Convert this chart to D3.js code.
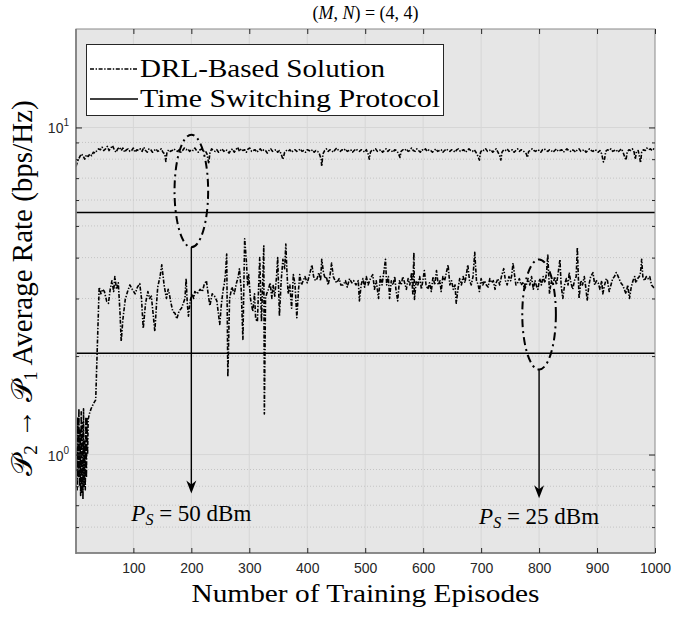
<!DOCTYPE html>
<html lang="en">
<head>
<meta charset="UTF-8">
<script src="https://d3js.org/d3.v7.min.js"></script>
<style>
  body { margin: 0; background: #fff; }
  svg { display: block; }
</style>
</head>
<body>
<div id="chart"></div>
<script>
// ---- data ----
const xTicks = [100, 200, 300, 400, 500, 600, 700, 800, 900, 1000];
const yMajor = [1, 10];
const yMinor = [0.6, 0.7, 0.8, 0.9, 2, 3, 4, 5, 6, 7, 8, 9];

// time switching protocol levels (50 dBm, 25 dBm)
const tsLevels = [5.5, 2.04];

// DRL, P_S = 50 dBm : [episode, rate]
const drlHigh = [
  [1,7.6],[4,7.9],[7,8.1],[10,8.3],[13,8.2],[16,8.0],[19,8.25],[22,8.15],[25,8.3],[28,8.2],
  [31,8.4],[34,8.35],[37,8.5],[40,8.6],[43,8.55],[46,8.7],[49,8.5],[52,8.6],[55,8.75],[58,8.5],
  [61,8.65],[64,8.8],[67,8.55],[70,8.4],[73,8.6],[76,8.7],[79,8.5],[82,8.65],[85,8.4],[88,8.55],
  [91,8.6],[94,8.45],[97,8.5],[100,8.65],[103,8.4],[106,8.55],[109,8.5],[112,8.6],[115,8.45],[118,8.7],
  [121,8.5],[124,8.4],[127,8.6],[130,8.55],[133,8.4],[136,8.5],[139,8.6],[142,8.45],[145,8.5],[148,8.6],
  [151,8.4],[154,8.3],[156,7.87],[158,8.4],[161,8.55],[164,8.45],[167,8.5],[170,8.6],[173,8.5],[176,8.45],
  [179,8.55],[182,8.4],[185,8.5],[188,8.65],[191,8.55],[194,8.6],[197,8.45],[200,8.55],[203,8.5],[206,8.65],
  [209,8.5],[212,8.4],[215,8.55],[218,8.6],[221,8.45],[224,8.5],[227,8.3],[230,7.75],[232,8.35],[235,8.6],
  [238,8.5],[241,8.45],[244,8.55],[247,8.4],[250,8.5],[253,8.6],[256,8.45],[259,8.55],[262,8.5],[265,8.35],
  [268,8.5],[271,8.6],[274,8.4],[277,8.55],[280,8.7],[283,8.45],[286,8.6],[289,8.5],[292,8.55],[295,8.4],
  [298,8.6],[301,8.65],[304,8.45],[307,8.5],[310,8.55],[313,8.4],[316,8.5],[319,8.6],[322,8.45],[325,8.55],
  [328,8.5],[331,8.35],[334,8.5],[337,8.6],[340,8.45],[343,8.5],[346,8.55],[349,8.4],[352,8.5],[355,8.3],
  [358,7.98],[361,8.4],[364,8.5],[367,8.45],[370,8.55],[373,8.4],[376,8.5],[379,8.55],[382,8.45],[385,8.5],
  [388,8.6],[391,8.45],[394,8.5],[397,8.4],[400,8.55],[403,8.5],[406,8.45],[409,8.55],[412,8.4],[415,8.5],
  [418,8.45],[421,8.3],[424,8.0],[425,7.6],[427,8.3],[430,8.5],[433,8.6],[436,8.45],[439,8.55],[442,8.5],
  [445,8.4],[448,8.55],[451,8.65],[454,8.5],[457,8.45],[460,8.55],[463,8.5],[466,8.6],[469,8.45],[472,8.5],
  [475,8.55],[478,8.4],[481,8.5],[484,8.6],[487,8.5],[490,8.45],[493,8.55],[496,8.5],[499,8.4],[502,8.55],
  [505,8.3],[507,8.0],[509,8.4],[512,8.55],[515,8.5],[518,8.6],[521,8.45],[524,8.5],[527,8.55],[530,8.4],
  [533,8.5],[536,8.6],[539,8.45],[542,8.55],[545,8.5],[548,8.4],[551,8.55],[554,8.5],[557,8.35],[560,8.1],
  [562,8.45],[565,8.55],[568,8.5],[571,8.6],[574,8.45],[577,8.5],[580,8.65],[583,8.5],[586,8.45],[589,8.6],
  [592,8.5],[595,8.4],[598,8.55],[601,8.5],[604,8.6],[607,8.45],[610,8.55],[613,8.5],[616,8.4],[619,8.5],
  [622,8.6],[625,8.45],[628,8.5],[631,8.55],[634,8.4],[637,8.5],[640,8.6],[643,8.5],[646,8.45],[649,8.55],
  [652,8.5],[655,8.4],[658,8.55],[661,8.6],[664,8.45],[667,8.5],[670,8.55],[673,8.4],[676,8.5],[679,8.6],
  [682,8.5],[685,8.45],[688,8.55],[691,8.4],[694,8.2],[697,7.95],[699,8.4],[702,8.55],[705,8.5],[708,8.6],
  [711,8.45],[714,8.5],[717,8.55],[720,8.4],[723,8.5],[726,8.6],[729,8.4],[732,8.2],[734,7.95],[736,8.4],
  [739,8.55],[742,8.5],[745,8.6],[748,8.45],[751,8.5],[754,8.55],[757,8.4],[760,8.5],[763,8.6],[766,8.45],
  [769,8.55],[772,8.5],[775,8.4],[778,8.3],[780,8.1],[782,8.45],[785,8.5],[788,8.6],[791,8.5],[794,8.45],
  [797,8.55],[800,8.5],[803,8.4],[806,8.55],[809,8.6],[812,8.5],[815,8.45],[818,8.55],[821,8.5],[824,8.4],
  [827,8.5],[830,8.6],[833,8.45],[836,8.5],[839,8.55],[842,8.4],[845,8.5],[848,8.6],[851,8.5],[854,8.45],
  [857,8.55],[860,8.5],[863,8.4],[866,8.55],[869,8.6],[872,8.45],[875,8.5],[878,8.55],[881,8.4],[884,8.5],
  [887,8.6],[890,8.5],[893,8.45],[896,8.55],[899,8.5],[902,8.4],[905,8.5],[908,8.3],[911,7.85],[913,8.0],
  [915,8.45],[918,8.55],[921,8.5],[924,8.6],[927,8.45],[930,8.5],[933,8.55],[936,8.4],[939,8.5],[942,8.6],
  [945,8.4],[948,8.1],[950,7.95],[952,8.4],[955,8.55],[958,8.5],[961,8.6],[964,8.4],[966,8.0],[968,8.45],
  [971,8.5],[974,8.0],[975,7.8],[977,8.4],[980,8.55],[983,8.5],[986,8.65],[989,8.55],[992,8.6],[995,8.5],
  [998,8.6],[1000,8.55]
];

// DRL, P_S = 25 dBm : [episode, rate]
const drlLow = [
  [1,0.8],[2,1.05],[3,0.78],[4,1.3],[5,0.85],[6,1.38],[7,0.8],[8,1.2],[9,0.75],[10,1.35],
  [11,0.76],[12,1.25],[13,0.73],[14,1.38],[15,0.8],[16,1.1],[17,0.78],[18,1.3],[19,0.85],[20,1.3],
  [21,1.0],[22,1.28],[24,1.33],[27,1.38],[31,1.43],[35,1.47],[38,2.2],[41,3.25],[44,3.1],[47,3.2],
  [50,3.15],[54,2.94],[57,2.9],[60,3.2],[63,3.4],[66,3.15],[68,3.5],[71,3.2],[74,3.35],[77,2.7],
  [79,2.22],[82,2.6],[86,2.98],[90,3.15],[94,3.3],[98,3.2],[103,3.1],[107,3.25],[111,3.33],[114,3.0],
  [117,2.43],[121,2.9],[125,3.15],[128,3.0],[131,3.05],[134,2.7],[137,2.38],[140,2.9],[142,3.25],[146,3.5],
  [149,3.8],[153,3.3],[157,3.0],[160,3.2],[162,3.1],[165,2.9],[168,2.74],[172,2.7],[175,2.6],[179,2.75],
  [183,2.8],[186,2.9],[189,3.0],[191,3.45],[193,2.9],[195,2.65],[198,2.95],[201,3.1],[204,3.0],[206,3.15],
  [210,3.1],[215,3.2],[219,3.15],[222,3.3],[226,3.4],[229,3.1],[232,2.85],[236,3.1],[240,3.05],[244,2.95],
  [249,2.5],[252,2.9],[255,3.2],[257,3.33],[259,3.6],[261,4.1],[263,1.73],[266,3.0],[270,3.25],[274,3.1],
  [278,3.35],[281,3.5],[283,3.7],[286,3.2],[289,2.25],[291,3.6],[292,4.57],[295,3.9],[297,3.3],[299,3.55],
  [302,3.0],[306,2.74],[309,3.1],[311,2.6],[314,2.55],[316,3.2],[318,4.0],[321,2.55],[323,3.3],[325,4.35],
  [326,1.33],[328,3.0],[330,3.1],[333,3.2],[336,3.35],[339,3.0],[341,3.3],[344,3.05],[347,3.5],[349,4.0],
  [352,2.65],[355,3.4],[358,3.95],[361,3.7],[363,4.4],[365,3.6],[367,3.1],[370,3.3],[373,2.8],[376,3.55],
  [379,3.3],[382,2.62],[385,3.2],[387,3.55],[390,3.3],[393,3.4],[396,3.5],[400,3.35],[404,3.55],[408,3.8],
  [411,3.5],[414,3.4],[417,3.45],[420,3.6],[423,3.4],[425,3.95],[428,3.6],[431,3.45],[433,3.5],[436,3.3],
  [439,3.5],[442,3.85],[445,3.5],[448,3.4],[451,3.35],[455,3.45],[458,3.3],[462,3.3],[466,3.4],[469,3.25],
  [473,3.45],[477,3.35],[480,3.4],[484,3.3],[488,3.4],[490,2.95],[493,3.3],[496,3.45],[499,3.25],[502,3.5],
  [505,3.3],[509,3.45],[513,3.55],[516,3.2],[519,3.4],[523,3.0],[526,3.5],[529,3.3],[532,3.6],[535,3.95],
  [537,3.3],[540,3.5],[542,3.0],[545,3.4],[548,3.3],[551,3.5],[553,3.2],[556,2.95],[559,3.4],[562,3.3],
  [565,3.5],[568,3.35],[571,3.2],[574,3.45],[577,3.3],[580,3.6],[582,3.1],[584,4.15],[585,2.98],[588,3.4],
  [591,3.3],[594,3.5],[597,3.2],[600,3.45],[602,3.65],[605,3.3],[608,3.2],[611,3.35],[614,3.15],[617,3.5],
  [620,3.3],[623,3.65],[626,3.3],[629,3.4],[631,3.15],[634,3.5],[637,3.4],[640,3.6],[643,3.8],[646,3.3],
  [649,3.4],[652,3.2],[655,3.3],[657,2.9],[660,3.2],[663,3.45],[666,3.3],[669,3.5],[672,3.35],[675,3.6],
  [677,3.8],[680,3.4],[683,3.3],[686,3.5],[689,4.15],[692,3.4],[695,3.3],[697,3.15],[700,3.45],[703,3.3],
  [706,3.4],[709,3.3],[712,3.25],[715,3.45],[718,3.35],[721,3.4],[724,3.2],[726,3.35],[729,3.45],[732,3.3],
  [735,3.5],[739,3.7],[742,3.4],[745,3.3],[748,3.5],[751,3.4],[753,3.55],[755,3.85],[758,3.5],[760,3.3],
  [763,3.35],[766,3.45],[769,3.3],[772,3.35],[775,3.2],[778,3.3],[781,3.45],[784,3.3],[787,3.5],[790,3.2],
  [793,3.4],[796,3.25],[798,3.2],[801,3.45],[804,3.3],[807,3.5],[810,3.35],[813,3.6],[815,4.1],[818,3.1],
  [821,3.4],[824,3.3],[827,3.5],[830,3.3],[833,3.6],[836,3.95],[838,3.3],[841,3.0],[844,3.3],[847,3.45],
  [850,3.3],[852,3.6],[855,3.35],[858,3.2],[861,3.4],[864,3.5],[866,4.3],[869,3.0],[872,3.4],[875,3.3],
  [878,3.5],[881,3.2],[883,2.95],[886,3.3],[889,3.5],[893,3.6],[896,3.3],[899,3.4],[902,3.35],[905,3.2],
  [908,3.4],[910,3.1],[913,3.3],[916,3.45],[918,3.4],[921,3.15],[924,3.3],[927,3.45],[930,3.5],[933,3.6],
  [935,3.55],[938,3.45],[941,3.35],[944,3.3],[947,3.2],[950,3.1],[953,3.3],[956,3.0],[959,3.25],[962,3.4],
  [965,3.5],[967,3.35],[970,3.45],[973,3.5],[975,3.6],[977,3.95],[979,3.5],[982,3.4],[985,3.5],[988,3.45],
  [991,3.5],[994,3.3],[997,3.25],[1000,3.2]
];

// annotations: ellipse (episode, top rate, bottom rate, half width in episodes), arrow tip rate, label
const notes = [
  { ep: 200, top: 9.5, bottom: 4.3, half: 29, tip: 0.76, label: "50", labelRate: 0.625 },
  { ep: 800, top: 3.95, bottom: 1.82, half: 29, tip: 0.735, label: "25", labelRate: 0.615 }
];

// ---- layout ----
const W = 674, H = 617;
const margin = { top: 29, right: 19, bottom: 64, left: 76 };
const serif = "'Liberation Serif', 'DejaVu Serif', serif";
const sans = "'Liberation Sans', Arial, sans-serif";

const svg = d3.select("#chart").append("svg")
  .attr("width", W).attr("height", H);

const x = d3.scaleLinear().domain([1, 1000]).range([margin.left, W - margin.right]);
const y = d3.scaleLog().domain([0.5, 20]).range([H - margin.bottom, margin.top]);

svg.append("defs").append("clipPath").attr("id", "plot")
  .append("rect")
  .attr("x", margin.left).attr("y", margin.top)
  .attr("width", W - margin.left - margin.right)
  .attr("height", H - margin.top - margin.bottom);

// axes background
svg.append("rect")
  .attr("x", margin.left).attr("y", margin.top)
  .attr("width", W - margin.left - margin.right)
  .attr("height", H - margin.top - margin.bottom)
  .attr("fill", "#e6e6e6");

// grid
const grid = svg.append("g");
grid.selectAll("line.vx").data(xTicks.slice(0, -1)).enter().append("line")
  .attr("x1", d => x(d)).attr("x2", d => x(d))
  .attr("y1", margin.top).attr("y2", H - margin.bottom)
  .attr("stroke", "#d6d6d6").attr("stroke-width", 1);
grid.selectAll("line.hy").data(yMajor).enter().append("line")
  .attr("x1", margin.left).attr("x2", W - margin.right)
  .attr("y1", d => y(d)).attr("y2", d => y(d))
  .attr("stroke", "#d6d6d6").attr("stroke-width", 1);
grid.selectAll("line.hm").data(yMinor).enter().append("line")
  .attr("x1", margin.left).attr("x2", W - margin.right)
  .attr("y1", d => y(d)).attr("y2", d => y(d))
  .attr("stroke", "#c4c4c4").attr("stroke-width", 1)
  .attr("stroke-dasharray", "1,2");

// series
const plot = svg.append("g").attr("clip-path", "url(#plot)");
const line = d3.line().x(d => x(d[0])).y(d => y(d[1]));

plot.selectAll("line.ts").data(tsLevels).enter().append("line")
  .attr("x1", x(1)).attr("x2", x(1000))
  .attr("y1", d => y(d)).attr("y2", d => y(d))
  .attr("stroke", "#000").attr("stroke-width", 1.5);

[drlHigh, drlLow].forEach(s => {
  plot.append("path").datum(s)
    .attr("d", line)
    .attr("fill", "none")
    .attr("stroke", "#000")
    .attr("stroke-width", 1.6)
    .attr("stroke-linejoin", "round")
    .attr("stroke-dasharray", "4,1.6,1.4,1.6");
});

// annotations
notes.forEach(n => {
  const cx = x(n.ep), cy = (y(n.top) + y(n.bottom)) / 2;
  svg.append("ellipse")
    .attr("cx", cx).attr("cy", cy)
    .attr("rx", x(n.ep + n.half) - cx)
    .attr("ry", (y(n.bottom) - y(n.top)) / 2)
    .attr("fill", "none").attr("stroke", "#000")
    .attr("stroke-width", 2).attr("stroke-dasharray", "8,4,2,4");
  const tipY = y(n.tip);
  svg.append("line")
    .attr("x1", cx).attr("x2", cx)
    .attr("y1", y(n.bottom)).attr("y2", tipY - 6)
    .attr("stroke", "#000").attr("stroke-width", 1.4);
  svg.append("path")
    .attr("d", `M${cx},${tipY} L${cx - 5},${tipY - 13} L${cx},${tipY - 9} L${cx + 5},${tipY - 13} Z`)
    .attr("fill", "#000");
  const t = svg.append("text")
    .attr("x", cx).attr("y", y(n.labelRate))
    .attr("text-anchor", "middle")
    .attr("font-family", serif).attr("font-size", 23);
  t.append("tspan").attr("font-style", "italic").text("P");
  t.append("tspan").attr("font-size", 16).attr("dy", 4).attr("font-style", "italic").text("S");
  t.append("tspan").attr("dy", -4).text(` = ${n.label} dBm`);
});

// axes frame + ticks (inward, MATLAB style)
const axisColor = "#262626";
const frame = svg.append("g");
frame.append("rect")
  .attr("x", margin.left).attr("y", margin.top)
  .attr("width", W - margin.left - margin.right)
  .attr("height", H - margin.top - margin.bottom)
  .attr("fill", "none").attr("stroke", "#8a8a8a").attr("stroke-width", 1);
frame.append("line")
  .attr("x1", margin.left).attr("x2", margin.left)
  .attr("y1", margin.top).attr("y2", H - margin.bottom + 1)
  .attr("stroke", "#7a7a7a").attr("stroke-width", 1.6);
frame.append("line")
  .attr("x1", margin.left).attr("x2", W - margin.right)
  .attr("y1", H - margin.bottom).attr("y2", H - margin.bottom)
  .attr("stroke", "#7a7a7a").attr("stroke-width", 1.6);

const xb = d3.axisBottom(x).tickValues(xTicks).tickSize(-5).tickPadding(10).tickFormat(d3.format("d"));
const gxb = svg.append("g").attr("transform", `translate(0,${H - margin.bottom})`).call(xb);
svg.append("g").attr("transform", `translate(0,${margin.top})`)
  .call(d3.axisTop(x).tickValues(xTicks).tickSize(-5).tickFormat(""));
svg.append("g").attr("transform", `translate(${margin.left},0)`)
  .call(d3.axisLeft(y).tickValues(yMajor).tickSize(-6).tickFormat(""));
svg.append("g").attr("transform", `translate(${margin.left},0)`)
  .call(d3.axisLeft(y).tickValues(yMinor).tickSize(-3).tickFormat(""));
svg.append("g").attr("transform", `translate(${W - margin.right},0)`)
  .call(d3.axisRight(y).tickValues(yMajor).tickSize(-6).tickFormat(""));
svg.append("g").attr("transform", `translate(${W - margin.right},0)`)
  .call(d3.axisRight(y).tickValues(yMinor).tickSize(-3).tickFormat(""));

svg.selectAll(".domain").remove();
svg.selectAll(".tick line").attr("stroke", axisColor);
gxb.selectAll("text").attr("font-family", sans).attr("font-size", 14).attr("fill", axisColor);

// y tick labels 10^0, 10^1
yMajor.forEach(v => {
  const t = svg.append("text")
    .attr("x", margin.left - 7).attr("y", y(v) + 6)
    .attr("text-anchor", "end")
    .attr("font-family", sans).attr("font-size", 14).attr("fill", axisColor);
  t.append("tspan").text("10");
  t.append("tspan").attr("dy", -7).attr("font-size", 10).text(Math.round(Math.log10(v)));
});

// legend
const lg = svg.append("g");
lg.append("rect")
  .attr("x", 86.5).attr("y", 44.5).attr("width", 357).attr("height", 71)
  .attr("fill", "#fff").attr("stroke", axisColor).attr("stroke-width", 1);
const legendItems = [
  { name: "DRL-Based Solution", dash: "4,1.6,1.4,1.6", w: 1.3, len: 245 },
  { name: "Time Switching Protocol", dash: null, w: 1.5, len: 300 }
];
legendItems.forEach((it, i) => {
  const ly = 69 + i * 30;
  lg.append("line")
    .attr("x1", 90).attr("x2", 138).attr("y1", ly).attr("y2", ly)
    .attr("stroke", "#000").attr("stroke-width", it.w)
    .attr("stroke-dasharray", it.dash);
  lg.append("text")
    .attr("x", 140).attr("y", ly + 8)
    .attr("font-family", serif).attr("font-size", 26)
    .attr("textLength", it.len).attr("lengthAdjust", "spacingAndGlyphs")
    .text(it.name);
});

// title
const title = svg.append("text")
  .attr("x", (margin.left + W - margin.right) / 2).attr("y", 19)
  .attr("text-anchor", "middle")
  .attr("font-family", serif).attr("font-size", 18);
title.append("tspan").text("(");
title.append("tspan").attr("font-style", "italic").text("M");
title.append("tspan").text(", ");
title.append("tspan").attr("font-style", "italic").text("N");
title.append("tspan").text(") = (4, 4)");

// x label
svg.append("text")
  .attr("x", (margin.left + W - margin.right) / 2).attr("y", 602)
  .attr("text-anchor", "middle")
  .attr("font-family", serif).attr("font-size", 25)
  .attr("textLength", 348).attr("lengthAdjust", "spacingAndGlyphs")
  .text("Number of Training Episodes");

// y label
const ylab = svg.append("text")
  .attr("transform", `translate(32,288) rotate(-90)`)
  .attr("text-anchor", "middle")
  .attr("font-family", serif).attr("font-size", 29);
ylab.append("tspan").text("\u{1D4AB}");
ylab.append("tspan").attr("font-size", 19).attr("dy", 5).text("2");
ylab.append("tspan").attr("dy", -5).text(" \u2192 \u{1D4AB}");
ylab.append("tspan").attr("font-size", 19).attr("dy", 5).text("1");
ylab.append("tspan").attr("dy", -5).text(" Average Rate (bps/Hz)");
</script>
</body>
</html>
